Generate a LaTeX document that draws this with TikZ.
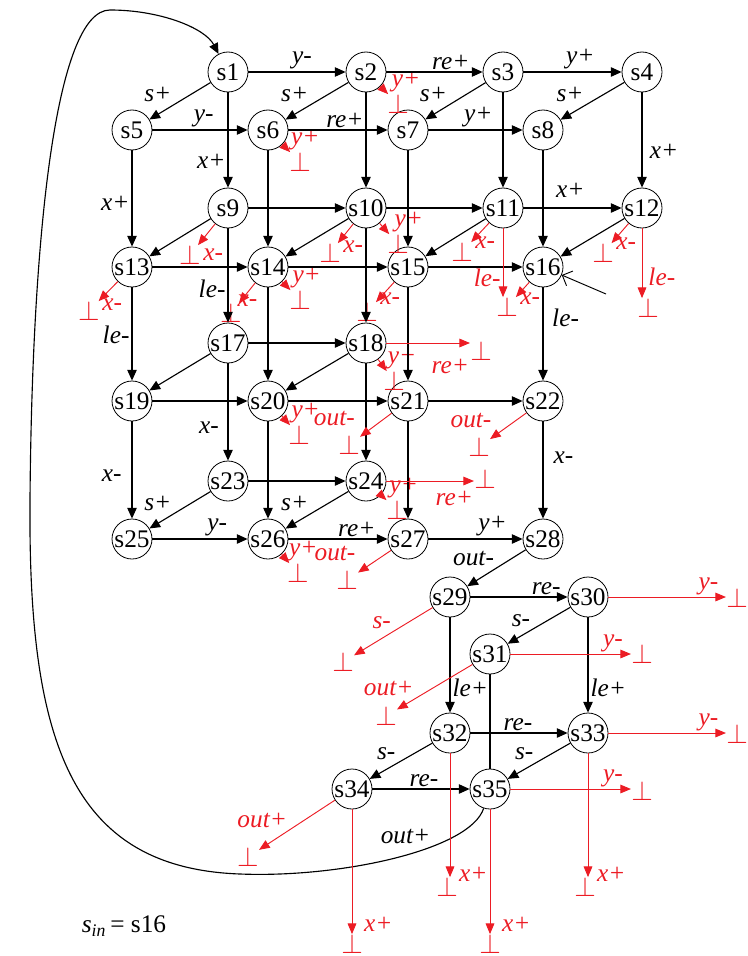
\documentclass[tikz,border=0pt]{standalone}
\usepackage{fontspec}
\setmainfont{Liberation Serif}
\usetikzlibrary{arrows.meta}
\definecolor{failred}{RGB}{236,28,36}

\begin{document}
\begin{tikzpicture}[
x=0.75pt, y=-0.75pt,
font=\fontsize{19}{22}\selectfont,
stnode/.style={
    circle,
    draw,
    line width=0.6pt,
    fill=white,
    minimum size=30pt,
    inner sep=0pt
},
arr/.style={-{Triangle[length=8pt,width=7pt]}, line width=0.85pt},
fail/.style={-{Triangle[length=8pt,width=6.5pt]}, failred, line width=0.7pt},
lbl/.style={font=\fontsize{19}{22}\selectfont\itshape, inner sep=1.5pt},
fl/.style={lbl, text=failred},
bot/.style={text=failred, inner sep=0pt, font=\fontsize{22}{24}\selectfont}
]
\useasboundingbox (0,0) rectangle (748,956);

% states
\node[stnode] (s1) at (228,72) {s1};
\node[stnode] (s2) at (366,72) {s2};
\node[stnode] (s3) at (503,72) {s3};
\node[stnode] (s4) at (642,72) {s4};
\node[stnode] (s5) at (132,130) {s5};
\node[stnode] (s6) at (268,130) {s6};
\node[stnode] (s7) at (408,130) {s7};
\node[stnode] (s8) at (543,130) {s8};
\node[stnode] (s9) at (228,208) {s9};
\node[stnode] (s10) at (366,208) {s10};
\node[stnode] (s11) at (503,208) {s11};
\node[stnode] (s12) at (642,208) {s12};
\node[stnode] (s13) at (132,267) {s13};
\node[stnode] (s14) at (268,267) {s14};
\node[stnode] (s15) at (408,267) {s15};
\node[stnode] (s16) at (543,267) {s16};
\node[stnode] (s17) at (228,343) {s17};
\node[stnode] (s18) at (366,343) {s18};
\node[stnode] (s19) at (132,401) {s19};
\node[stnode] (s20) at (268,401) {s20};
\node[stnode] (s21) at (408,401) {s21};
\node[stnode] (s22) at (543,401) {s22};
\node[stnode] (s23) at (228,481) {s23};
\node[stnode] (s24) at (366,481) {s24};
\node[stnode] (s25) at (132,539) {s25};
\node[stnode] (s26) at (268,539) {s26};
\node[stnode] (s27) at (408,539) {s27};
\node[stnode] (s28) at (543,539) {s28};
\node[stnode] (s29) at (450,597) {s29};
\node[stnode] (s30) at (588,597) {s30};
\node[stnode] (s31) at (490,654) {s31};
\node[stnode] (s32) at (450,733) {s32};
\node[stnode] (s33) at (588,733) {s33};
\node[stnode] (s34) at (352,789) {s34};
\node[stnode] (s35) at (490,789) {s35};

% failure states
\node[bot, label={[fl, xshift=6pt]above:y+}] (f2) at (398,104) {$\bot$};
\node[bot, label={[fl, xshift=4pt]above:y+}] (f6) at (300,162) {$\bot$};
\node[bot, label={[fl]right:x-}] (f9) at (190,255) {$\bot$};
\node[bot, label={[fl, yshift=5pt]right:x-}] (f13) at (89,311) {$\bot$};
\node[bot, label={[fl, xshift=-5pt, yshift=9pt]right:x-}] (f14a) at (231,313) {$\bot$};
\node[bot, label={[fl, xshift=5pt]above:y+}] (f14b) at (300,300) {$\bot$};
\node[bot, label={[fl, yshift=5pt]right:x-}] (f10a) at (330,253) {$\bot$};
\node[bot, label={[fl, xshift=8pt]above:y+}] (f10b) at (398,244) {$\bot$};
\node[bot, label={[fl, yshift=7pt]right:x-}] (f11a) at (462,252) {$\bot$};
\node[bot, label={[fl, yshift=6pt]right:x-}] (f11b) at (507,307) {$\bot$};
\node[bot, label={[fl, yshift=7pt]right:x-}] (f12a) at (603,253) {$\bot$};
\node[bot] (f12b) at (648,308) {$\bot$};
\node[bot, label={[fl, yshift=10pt]right:x-}] (f15) at (367,312) {$\bot$};
\node[bot, label={[fl, yshift=3pt]below left:re+}] (f18a) at (481,351) {$\bot$};
\node[bot, label={[fl, xshift=6pt]above:y+}] (f18b) at (394,381) {$\bot$};
\node[bot, label={[fl, xshift=5pt]above:y+}] (f20) at (299,435) {$\bot$};
\node[bot, label={[fl, xshift=-11pt, yshift=5pt]above:out-}] (f21) at (349,445) {$\bot$};
\node[bot, label={[fl, xshift=-6pt, yshift=5pt]above:out-}] (f22) at (479,447) {$\bot$};
\node[bot, label={[fl]below left:re+}] (f24a) at (485,479) {$\bot$};
\node[bot, label={[fl, xshift=5pt]above:y+}] (f24b) at (397,510) {$\bot$};
\node[bot, label={[fl, xshift=4pt]above:y+}] (f26) at (298,573) {$\bot$};
\node[bot, label={[fl, xshift=-9pt, yshift=5pt]above:out-}] (f27) at (347,580) {$\bot$};
\node[bot] (f29) at (343,662) {$\bot$};
\node[bot] (f30) at (737,598) {$\bot$};
\node[bot] (f31a) at (642,654) {$\bot$};
\node[bot] (f31b) at (386,716) {$\bot$};
\node[bot] (f33a) at (737,734) {$\bot$};
\node[bot] (f35a) at (642,791) {$\bot$};
\node[bot] (f34a) at (248,857) {$\bot$};
\node[bot, label={[fl]above right:x+}] (f34b) at (352,944) {$\bot$};
\node[bot, label={[fl]above right:x+}] (f35b) at (490,944) {$\bot$};
\node[bot, label={[fl, yshift=-5pt]above right:x+}] (f32) at (447,887) {$\bot$};
\node[bot, label={[fl, yshift=-5pt]above right:x+}] (f33b) at (585,887) {$\bot$};

\node (sin) at (124,926) {\textit{s}\textsubscript{\textit{in}}\,= s16};

% upper block
\draw[arr] (s1) -- node[lbl, above, pos=0.55] {y-} (s2);
\draw[arr] (s2) -- node[lbl, above, pos=0.67] {re+} (s3);
\draw[arr] (s3) -- node[lbl, above, pos=0.58] {y+} (s4);
\draw[arr] (s1) -- node[lbl, above left, pos=0.6] {s+} (s5);
\draw[arr] (s2) -- node[lbl, above left, pos=0.6] {s+} (s6);
\draw[arr] (s3) -- node[lbl, above left, pos=0.6] {s+} (s7);
\draw[arr] (s4) -- node[lbl, above left, pos=0.6] {s+} (s8);
\draw[arr] (s5) -- node[lbl, above, pos=0.54] {y-} (s6);
\draw[arr] (s6) -- node[lbl, above, pos=0.57] {re+} (s7);
\draw[arr] (s7) -- node[lbl, above, pos=0.53] {y+} (s8);
\draw[arr] (s1) -- node[lbl, left, pos=0.72] {x+} (s9);
\draw[arr] (s2) -- (s10);
\draw[arr] (s3) -- (s11);
\draw[arr] (s4) -- node[lbl, right=4pt, pos=0.62] {x+} (s12);
\draw[arr] (s5) -- node[lbl, left, pos=0.55] {x+} (s13);
\draw[arr] (s6) -- (s14);
\draw[arr] (s7) -- (s15);
\draw[arr] (s8) -- node[lbl, right=8pt, pos=0.41] {x+} (s16);
\draw[arr] (s9) -- (s10);
\draw[arr] (s10) -- (s11);
\draw[arr] (s11) -- (s12);
\draw[arr] (s9) -- (s13);
\draw[arr] (s10) -- (s14);
\draw[arr] (s11) -- (s15);
\draw[arr] (s12) -- (s16);
\draw[arr] (s13) -- (s14);
\draw[arr] (s14) -- (s15);
\draw[arr] (s15) -- (s16);

% middle block
\draw[arr] (s9) -- node[lbl, left, pos=0.64] {le-} (s17);
\draw[arr] (s10) -- (s18);
\draw[arr] (s13) -- node[lbl, left, pos=0.51] {le-} (s19);
\draw[arr] (s14) -- (s20);
\draw[arr] (s15) -- (s21);
\draw[arr] (s16) -- node[lbl, right=5pt, pos=0.33] {le-} (s22);
\draw[arr] (s17) -- (s18);
\draw[arr] (s17) -- (s19);
\draw[arr] (s18) -- (s20);
\draw[arr] (s19) -- (s20);
\draw[arr] (s20) -- (s21);
\draw[arr] (s21) -- (s22);
\draw[arr] (s17) -- node[lbl, left=5pt, pos=0.66] {x-} (s23);
\draw[arr] (s18) -- (s24);
\draw[arr] (s19) -- node[lbl, left=6pt, pos=0.56] {x-} (s25);
\draw[arr] (s20) -- (s26);
\draw[arr] (s21) -- (s27);
\draw[arr] (s22) -- node[lbl, right=6pt, pos=0.37] {x-} (s28);
\draw[arr] (s23) -- (s24);
\draw[arr] (s23) -- node[lbl, above left, pos=0.6] {s+} (s25);
\draw[arr] (s24) -- node[lbl, above left, pos=0.6] {s+} (s26);
\draw[arr] (s25) -- node[lbl, above, pos=0.68] {y-} (s26);
\draw[arr] (s26) -- node[lbl, above, pos=0.69] {re+} (s27);
\draw[arr] (s27) -- node[lbl, above, pos=0.68] {y+} (s28);

% lower block
\draw[arr] (s28) -- node[lbl, above left] {out-} (s29);
\draw[arr] (s29) -- node[lbl, above, pos=0.78] {re-} (s30);
\draw[arr] (s30) -- node[lbl, above left, pos=0.6] {s-} (s31);
\draw[arr] (s29) -- node[lbl, right, pos=0.74] {le+} (s32);
\draw[arr] (s30) -- node[lbl, right, pos=0.74] {le+} (s33);
\draw[line width=0.85pt] (s31) -- (s35);
\draw[arr] (s32) -- node[lbl, above, pos=0.49] {re-} (s33);
\draw[arr] (s32) -- node[lbl, above left, pos=0.55] {s-} (s34);
\draw[arr] (s33) -- node[lbl, above left, pos=0.55] {s-} (s35);
\draw[arr] (s34) -- node[lbl, above, pos=0.53] {re-} (s35);

% back to s1
\draw[arr] (s35) .. controls (470,850) and (340,878) .. (240,874) node[lbl, above left, pos=0.35] {out+}
    .. controls (70,868) and (28,740) .. (30,500)
    .. controls (32,240) and (55,10) .. (110,10)
    .. controls (160,10) and (205,28) .. (s1);

% initial state
\coordinate (init) at (606,294);
\draw[-{Straight Barb[length=6pt,width=12pt]}, line width=0.7pt] (init) -- (s16);

% failures
\draw[fail] (s2) -- (f2);
\draw[fail] (s6) -- (f6);
\draw[fail] (s9) -- (f9);
\draw[fail] (s13) -- (f13);
\draw[fail] (s14) -- (f14a);
\draw[fail] (s14) -- (f14b);
\draw[fail] (s10) -- (f10a);
\draw[fail] (s10) -- (f10b);
\draw[fail] (s11) -- (f11a);
\draw[fail] (s11) -- node[fl, left, pos=0.72] {le-} (s11 |- f11b.north);
\draw[fail] (s16) -- (f11b);
\draw[fail] (s12) -- (f12a);
\draw[fail] (s12) -- node[fl, right=3pt, pos=0.7] {le-} (s12 |- f12b.north);
\draw[fail] (s15) -- (f15);
\draw[fail] (s18) -- (s18 -| f18a.west);
\draw[fail] (s18) -- (f18b);
\draw[fail] (s20) -- (f20);
\draw[fail] (s21) -- (f21);
\draw[fail] (s22) -- (f22);
\draw[fail] (s24) -- (s24 -| f24a.west);
\draw[fail] (s24) -- (f24b);
\draw[fail] (s26) -- (f26);
\draw[fail] (s27) -- (f27);
\draw[fail] (s29) -- node[fl, above left] {s-} (f29);
\draw[fail] (s30) -- node[fl, above, pos=0.85] {y-} (s30 -| f30.west);
\draw[fail] (s31) -- node[fl, above, pos=0.85] {y-} (s31 -| f31a.west);
\draw[fail] (s31) -- node[fl, above left, pos=0.75] {out+} (f31b);
\draw[fail] (s33) -- node[fl, above, pos=0.85] {y-} (s33 -| f33a.west);
\draw[fail] (s35) -- node[fl, above, pos=0.85] {y-} (s35 -| f35a.west);
\draw[fail] (s34) -- node[fl, above left, pos=0.6] {out+} (f34a);
\draw[fail] (s34) -- (s34 |- f34b.north);
\draw[fail] (s35) -- (s35 |- f35b.north);
\draw[fail] (s32) -- (s32 |- f32.north);
\draw[fail] (s33) -- (s33 |- f33b.north);
\end{tikzpicture}
\end{document}
